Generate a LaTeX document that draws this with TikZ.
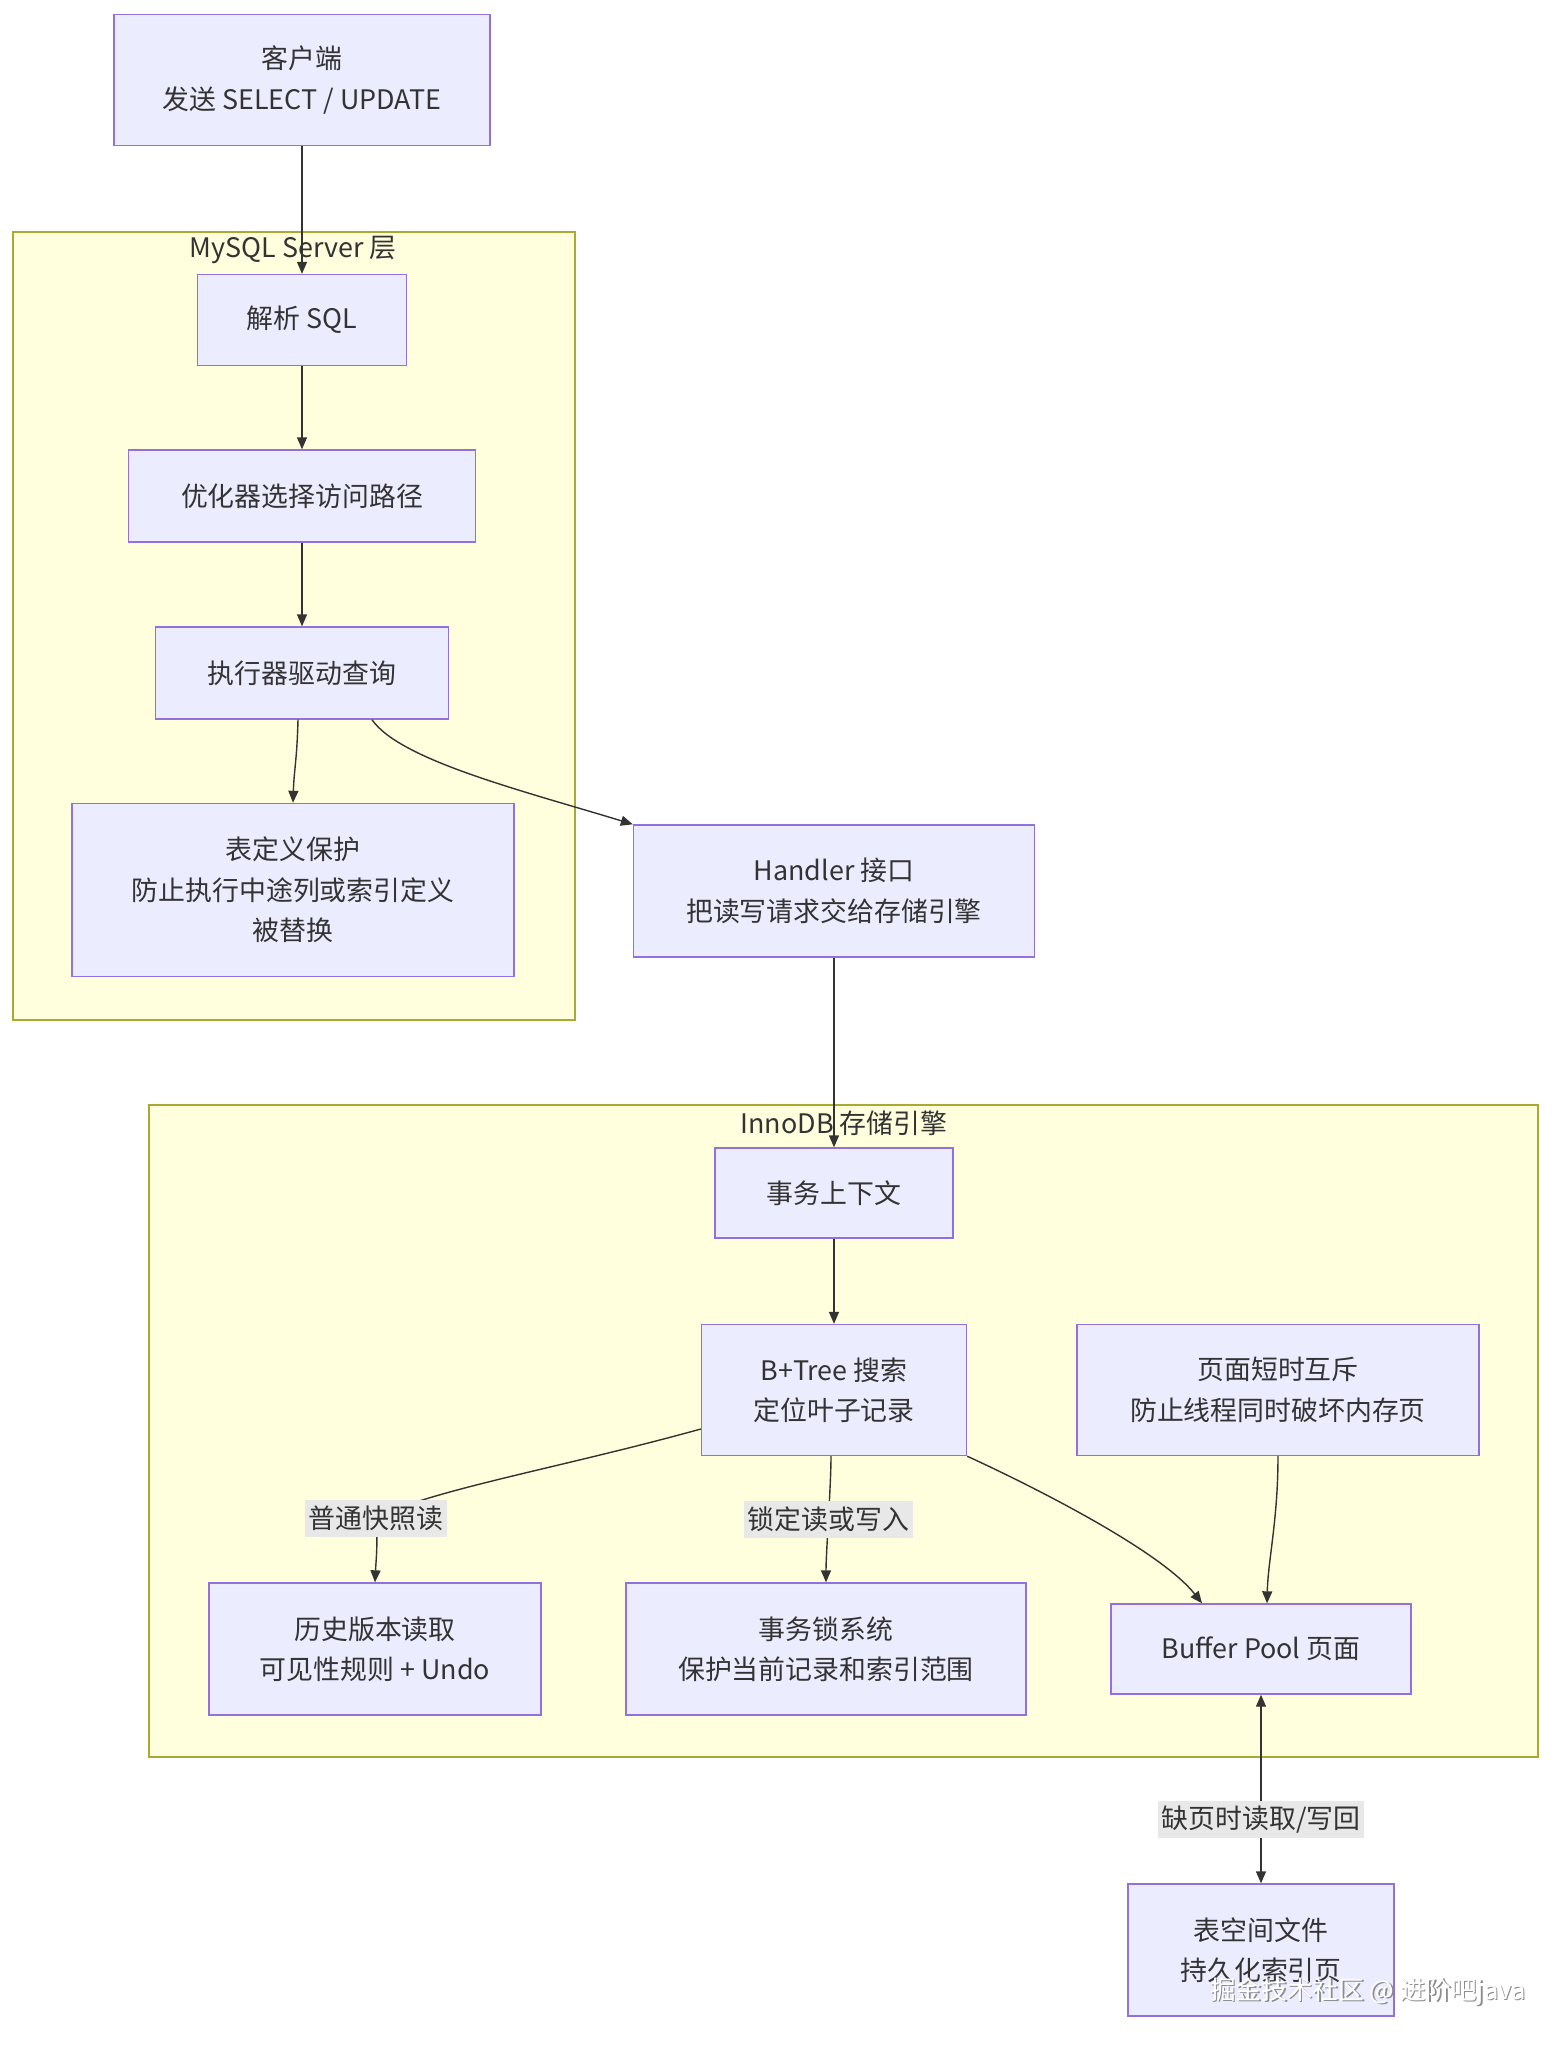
\documentclass[tikz,border=0pt]{standalone}
\usepackage{fontspec}
\setmainfont{Noto Sans CJK SC}
\usetikzlibrary{arrows.meta}
\definecolor{boxfill}{HTML}{ECECFF}
\definecolor{boxline}{HTML}{9370DB}
\definecolor{grpfill}{HTML}{FFFFDE}
\definecolor{grpline}{HTML}{AAAA33}
\definecolor{ink}{HTML}{333333}
\definecolor{lblfill}{HTML}{E8E8E8}
\begin{document}
\begin{tikzpicture}
  [x=0.02cm,y=0.02cm,
   every node/.style={font=\fontsize{15.3}{23}\selectfont,text=ink},
   box/.style={draw=boxline,fill=boxfill,line width=0.8pt,align=center,inner sep=0pt},
   grp/.style={draw=grpline,fill=grpfill,line width=0.8pt},
   lbl/.style={fill=lblfill,inner sep=2pt,minimum height=0.74cm},
   edge/.style={draw=ink,line width=0.8pt,-{Triangle[length=0.24cm,width=0.2cm]}},
   both/.style={draw=ink,line width=0.8pt,{Triangle[length=0.24cm,width=0.2cm]}-{Triangle[length=0.24cm,width=0.2cm]}}]
  \useasboundingbox[fill=white] (0,0) rectangle (1568,-2052);
  % groups
  \draw[grp] (13,-232) rectangle (575,-1020);
  \node (server) at (293,-250) {MySQL Server 层};
  \draw[grp] (149,-1105) rectangle (1538,-1757);
  \node (innodb) at (844,-1123) {InnoDB 存储引擎};
  % boxes
  \node (client)[box,minimum width=7.52cm,minimum height=2.62cm] at (302,-80) {客户端\\发送 SELECT / UPDATE};
  \node (parse)[box,minimum width=4.18cm,minimum height=1.82cm] at (302,-320) {解析 SQL};
  \node (opt)[box,minimum width=6.94cm,minimum height=1.84cm] at (302,-496) {优化器选择访问路径};
  \node (exec)[box,minimum width=5.86cm,minimum height=1.84cm] at (302,-673) {执行器驱动查询};
  \node (tabdef)[box,minimum width=8.84cm,minimum height=3.46cm] at (293,-890) {表定义保护\\防止执行中途列或索引定义\\被替换};
  \node (handler)[box,minimum width=8.02cm,minimum height=2.64cm] at (834,-891) {Handler 接口\\把读写请求交给存储引擎};
  \node (trx)[box,minimum width=4.76cm,minimum height=1.80cm] at (834,-1193) {事务上下文};
  \node (btree)[box,minimum width=5.30cm,minimum height=2.62cm] at (834,-1390) {B+Tree 搜索\\定位叶子记录};
  \node (latch)[box,minimum width=8.04cm,minimum height=2.62cm] at (1278,-1390) {页面短时互斥\\防止线程同时破坏内存页};
  \node (mvcc)[box,minimum width=6.64cm,minimum height=2.64cm] at (375,-1649) {历史版本读取\\可见性规则 + Undo};
  \node (locks)[box,minimum width=8.00cm,minimum height=2.64cm] at (826,-1649) {事务锁系统\\保护当前记录和索引范围};
  \node (pool)[box,minimum width=6.00cm,minimum height=1.80cm] at (1261,-1649) {Buffer Pool 页面};
  \node (space)[box,minimum width=5.32cm,minimum height=2.64cm] at (1261,-1950) {表空间文件\\持久化索引页};
  \coordinate (snap) at (376,-1518);
  % connectors
  \foreach \from/\to in {client/parse,parse/opt,opt/exec,handler/trx,trx/btree}
    \draw[edge] (\from) -- (\to);
  \draw[edge] ([xshift=-0.08cm]exec.south) .. controls (297,-760) and (294,-770) .. (tabdef.north);
  \draw[edge] ([xshift=1.4cm]exec.south) .. controls (400,-760) and (520,-790) .. (handler.north west);
  \draw[edge] ([yshift=-0.78cm]btree.west) .. controls (560,-1468) and (430,-1490) .. (snap)
    node[lbl] (snaplbl) {普通快照读} .. controls (378,-1545) and (376,-1560) .. (mvcc.north);
  \draw[edge] ([xshift=-0.06cm]btree.south) .. controls +(0,-30) and +(0,30) .. (locks.north)
    node[midway,lbl] (locklbl) {锁定读或写入};
  \draw[edge] (btree.south east) .. controls (1030,-1485) and (1160,-1550) .. ([xshift=-1.18cm]pool.north);
  \draw[edge] (latch.south) .. controls (1278,-1520) and (1268,-1560) .. ([xshift=0.12cm]pool.north);
  \draw[both] (pool.south) -- (space.north) node[pos=0.66,lbl] (iolbl) {缺页时读取/写回};
  % watermark
  \node (wmshade)[text=black!45,font=\fontsize{14.6}{20}\selectfont] at (1369.5,-1993) {掘金技术社区 @ 进阶吧java};
  \node (wm)[text=white,font=\fontsize{14.6}{20}\selectfont] at (1368,-1991.5) {掘金技术社区 @ 进阶吧java};
\end{tikzpicture}
\end{document}
